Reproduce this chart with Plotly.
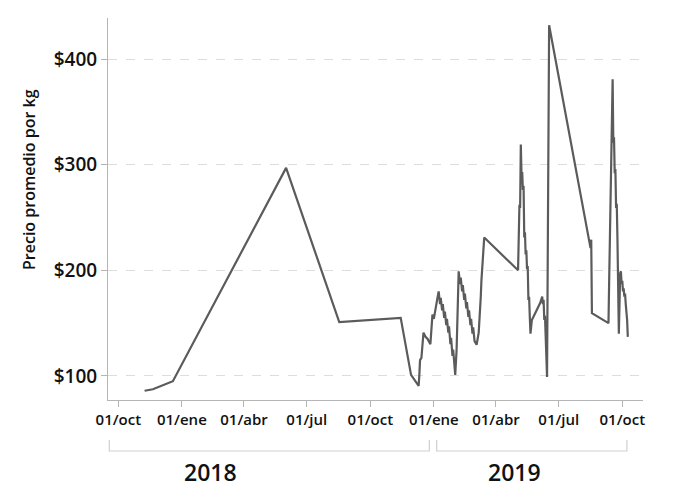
import plotly.graph_objects as go

# ---- data (dates and prices aligned row by row) ----
dates = [
    "2017-11-08", "2017-11-20", "2017-12-19", "2018-06-01", "2018-08-17",
    "2018-11-14", "2018-11-29", "2018-12-10", "2018-12-11", "2018-12-12",
    "2018-12-14", "2018-12-15", "2018-12-17", "2018-12-20", "2018-12-23",
    "2018-12-27", "2018-12-29", "2018-12-30", "2019-01-01", "2019-01-03",
    "2019-01-05", "2019-01-06", "2019-01-08", "2019-01-10", "2019-01-11",
    "2019-01-13", "2019-01-14", "2019-01-16", "2019-01-17", "2019-01-19",
    "2019-01-20", "2019-01-22", "2019-01-23", "2019-01-25", "2019-01-26",
    "2019-01-28", "2019-01-29", "2019-02-01", "2019-02-03", "2019-02-04",
    "2019-02-05", "2019-02-06", "2019-02-08", "2019-02-09", "2019-02-11",
    "2019-02-12", "2019-02-14", "2019-02-15", "2019-02-17", "2019-02-18",
    "2019-02-20", "2019-02-21", "2019-02-23", "2019-02-24", "2019-02-26",
    "2019-02-27", "2019-03-01", "2019-03-04", "2019-03-07", "2019-03-08",
    "2019-03-09", "2019-03-10", "2019-03-11", "2019-03-12", "2019-03-14",
    "2019-03-15", "2019-05-03", "2019-05-04", "2019-05-05", "2019-05-06",
    "2019-05-07", "2019-05-08", "2019-05-09", "2019-05-10", "2019-05-11",
    "2019-05-12", "2019-05-13", "2019-05-14", "2019-05-15", "2019-05-16",
    "2019-05-17", "2019-05-18", "2019-05-19", "2019-05-20", "2019-05-21",
    "2019-05-23", "2019-05-26", "2019-05-29", "2019-06-01", "2019-06-04",
    "2019-06-07", "2019-06-08", "2019-06-09", "2019-06-10", "2019-06-11",
    "2019-06-12", "2019-06-13", "2019-06-14", "2019-06-15", "2019-06-16",
    "2019-06-17", "2019-08-16", "2019-08-17", "2019-08-18", "2019-09-11",
    "2019-09-12", "2019-09-13", "2019-09-14", "2019-09-15", "2019-09-16",
    "2019-09-17", "2019-09-18", "2019-09-19", "2019-09-20", "2019-09-21",
    "2019-09-22", "2019-09-23", "2019-09-24", "2019-09-25", "2019-09-26",
    "2019-09-28", "2019-09-29", "2019-09-30", "2019-10-01", "2019-10-02",
    "2019-10-03", "2019-10-04", "2019-10-05", "2019-10-06", "2019-10-07",
    "2019-10-08", "2019-10-09",
]
prices = [
    86, 87.4, 95, 297, 151,
    155, 101, 90.5, 101, 115,
    117, 124, 141, 137, 135,
    130, 144, 158, 154, 163,
    168, 173, 180, 168, 174,
    162, 168, 155, 161, 148,
    154, 141, 147, 130, 136,
    119, 125, 101, 125, 150,
    175, 199, 187, 193, 180,
    186, 172, 178, 164, 170,
    156, 162, 148, 154, 140,
    146, 133, 129.5, 141, 150,
    163, 175, 191, 203, 216,
    231, 200, 231, 262, 259,
    319, 291, 293, 276, 280,
    231, 236, 215, 219, 201,
    204, 172, 175, 156, 140,
    153, 157, 162, 165, 169,
    175, 168, 172, 153, 157,
    134, 112, 99, 212, 321,
    432, 221, 229, 159.5, 150,
    190, 229, 267, 303, 343,
    381, 321, 326, 292, 296,
    259, 263, 229, 199, 140,
    197.5, 199, 187, 190, 180,
    183, 175, 178, 168, 163,
    153, 137,
]
assert len(dates) == len(prices)

tick_vals = ["2017-10-01", "2018-01-01", "2018-04-01", "2018-07-01", "2018-10-01",
             "2019-01-01", "2019-04-01", "2019-07-01", "2019-10-01"]
tick_text = ["01/oct", "01/ene", "01/abr", "01/jul", "01/oct",
             "01/ene", "01/abr", "01/jul", "01/oct"]
y_ticks = [100, 200, 300, 400]
y_text = ["$100", "$200", "$300", "$400"]
years = ["2018", "2019"]

FONT = "Open Sans"

fig = go.Figure()
fig.add_trace(go.Scatter(
    x=dates, y=prices, mode="lines",
    line=dict(color="#5b5b5b", width=2.2),
    hoverinfo="skip", showlegend=False,
))

# page body has an 8px margin, so margins are offset accordingly
fig.update_layout(
    width=694, height=500,
    margin=dict(l=100, r=59, t=10, b=108),
    paper_bgcolor="white", plot_bgcolor="white",
    font=dict(family=FONT, color="#111111"),
    xaxis=dict(
        range=["2017-09-16", "2019-10-31"],
        tickvals=tick_vals, ticktext=tick_text,
        ticks="outside", ticklen=6, tickcolor="#b5b5b5", tickwidth=1,
        showline=True, linecolor="#b5b5b5", linewidth=1,
        showgrid=False, zeroline=False,
        tickfont=dict(family=FONT, size=15, color="#111111", weight=600),
    ),
    yaxis=dict(
        range=[77.2, 438.9],
        tickvals=y_ticks, ticktext=y_text,
        ticks="outside", ticklen=6, tickcolor="#b5b5b5", tickwidth=1,
        showline=True, linecolor="#b5b5b5", linewidth=1,
        showgrid=True, gridcolor="#dddddd", griddash="dash", gridwidth=1,
        zeroline=False,
        tickfont=dict(family=FONT, size=19, color="#111111", weight=600),
    ),
)

# y-axis title (placed as in the reference, slightly above centre)
fig.add_annotation(text="Precio promedio por kg", xref="paper", yref="paper",
                   x=-0.1477, y=0.5785, textangle=-90, showarrow=False,
                   xanchor="center", yanchor="middle",
                   font=dict(family=FONT, size=16, color="#111111", weight=600))

# year brackets below the axis
brackets = [(0.0024, 0.6006), (0.6144, 0.9699)]
y_h, y_v = -0.1335, -0.1047
for x0, x1 in brackets:
    fig.add_shape(type="path", xref="paper", yref="paper",
                  path=f"M {x0},{y_v} L {x0},{y_h} L {x1},{y_h} L {x1},{y_v}",
                  line=dict(color="#cfcfcf", width=1.2))

for label, xc in zip(years, [0.1925, 0.7607]):
    fig.add_annotation(text=label, xref="paper", yref="paper",
                       x=xc, y=-0.1885, showarrow=False,
                       xanchor="center", yanchor="middle",
                       font=dict(family=FONT, size=23, color="#111111", weight=600))

fig.write_html("out.html")
